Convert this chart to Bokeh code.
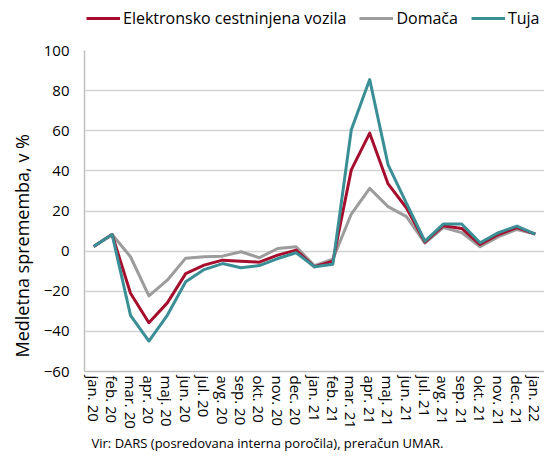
from bokeh.plotting import figure
from bokeh.layouts import column
from bokeh.models import ColumnDataSource, Legend, LegendItem, FixedTicker, Title, Range1d, FactorRange
from bokeh.embed import file_html
from bokeh.resources import INLINE

months = ["jan. 20", "feb. 20", "mar. 20", "apr. 20", "maj. 20", "jun. 20", "jul. 20", "avg. 20",
          "sep. 20", "okt. 20", "nov. 20", "dec. 20", "jan. 21", "feb. 21", "mar. 21", "apr. 21",
          "maj. 21", "jun. 21", "jul. 21", "avg. 21", "sep. 21", "okt. 21", "nov. 21", "dec. 21", "jan. 22"]
elektronsko = [2.3, 8.3, -21.0, -35.7, -25.8, -11.2, -7.0, -4.5, -5.0, -5.5, -2.0, 0.5, -7.8,
               -5.0, 40.5, 58.8, 33.5, 21.5, 4.5, 12.7, 11.3, 3.3, 8.3, 11.7, 8.5]
domaca = [2.3, 8.3, -2.8, -22.3, -14.5, -3.5, -2.8, -2.5, -0.3, -3.3, 1.3, 2.2, -7.3,
          -4.0, 18.5, 31.3, 22.2, 17.2, 4.0, 11.7, 9.2, 2.2, 7.2, 10.8, 8.5]
tuja = [2.3, 8.3, -32.0, -44.8, -32.0, -15.3, -9.2, -6.2, -8.3, -7.2, -3.7, -0.8, -7.8,
        -6.5, 60.5, 85.5, 43.0, 23.8, 5.0, 13.5, 13.5, 4.2, 9.2, 12.5, 8.5]
y_ticks = [-60, -40, -20, 0, 20, 40, 60, 80, 100]
series_names = ["Elektronsko cestninjena vozila", "Domača", "Tuja"]
colors = ["#A50F2D", "#9C9C9C", "#3A8E96"]
y_label = "Medletna sprememba, v %"
source_text = "Vir: DARS (posredovana interna poročila), preračun UMAR."

FONT = "Open Sans"
W = 544

src = ColumnDataSource(dict(x=months, i=list(range(len(months))), e=elektronsko, d=domaca, t=tuja))

# main chart
p = figure(width=W, height=415, x_range=FactorRange(factors=months, range_padding=0),
           y_range=Range1d(-60, 100), output_backend="svg", toolbar_location=None,
           min_border_left=77, min_border_right=0, min_border_top=13, min_border_bottom=10)
p.outline_line_color = None

r_d = p.line("x", "d", source=src, line_color=colors[1], line_width=3, line_join="round")
r_e = p.line("x", "e", source=src, line_color=colors[0], line_width=3, line_join="round")
r_t = p.line("x", "t", source=src, line_color=colors[2], line_width=3, line_join="round")

p.yaxis.ticker = FixedTicker(ticks=y_ticks)
p.ygrid.grid_line_color = "#D3D3D3"
p.ygrid.grid_line_width = 1.5
p.xgrid.grid_line_color = None

for ax in (p.xaxis[0], p.yaxis[0]):
    ax.axis_line_color = "#BFBFBF"
    ax.axis_line_width = 1.5
    ax.major_tick_line_color = None
    ax.minor_tick_line_color = None
    ax.major_tick_out = 0
    ax.major_tick_in = 0
    ax.major_label_text_font = FONT
    ax.major_label_text_font_size = "15px"
    ax.major_label_text_color = "#000000"

p.yaxis.major_label_standoff = 15
p.xaxis.major_label_orientation = "vertical"
p.xaxis.major_label_standoff = 4

# y-axis title, set lower along the axis as in the reference
p.add_layout(Title(text=y_label, align="left", offset=14, standoff=14,
                   text_font=FONT, text_font_size="18px", text_font_style="normal",
                   text_color="#000000"), "left")

p.add_layout(Title(text=source_text, align="left", offset=7, standoff=1,
                   text_font=FONT, text_font_size="13px", text_font_style="normal",
                   text_color="#000000"), "below")

# legend strip above the chart; its lines are drawn far outside its visible range
lg = figure(width=W, height=37, x_range=Range1d(0, 1), y_range=Range1d(1000, 1001),
            output_backend="svg", toolbar_location=None, x_axis_type=None, y_axis_type=None,
            min_border=0)
lg.outline_line_color = None
lg.grid.visible = False
rs = [lg.line("i", col, source=src, line_color=c, line_width=3)
      for col, c in zip(["e", "d", "t"], colors)]
legend = Legend(items=[LegendItem(label=n, renderers=[r]) for n, r in zip(series_names, rs)],
                orientation="horizontal", location=(2, 8),
                label_text_font=FONT, label_text_font_size="16px", label_text_color="#000000",
                glyph_width=34, glyph_height=18, label_standoff=3, spacing=13,
                padding=0, margin=0, border_line_color=None, background_fill_alpha=0,
                label_height=18)
lg.add_layout(legend, "center")

layout = column(lg, p, spacing=0)
open("out.html", "w").write(file_html(layout, INLINE))
